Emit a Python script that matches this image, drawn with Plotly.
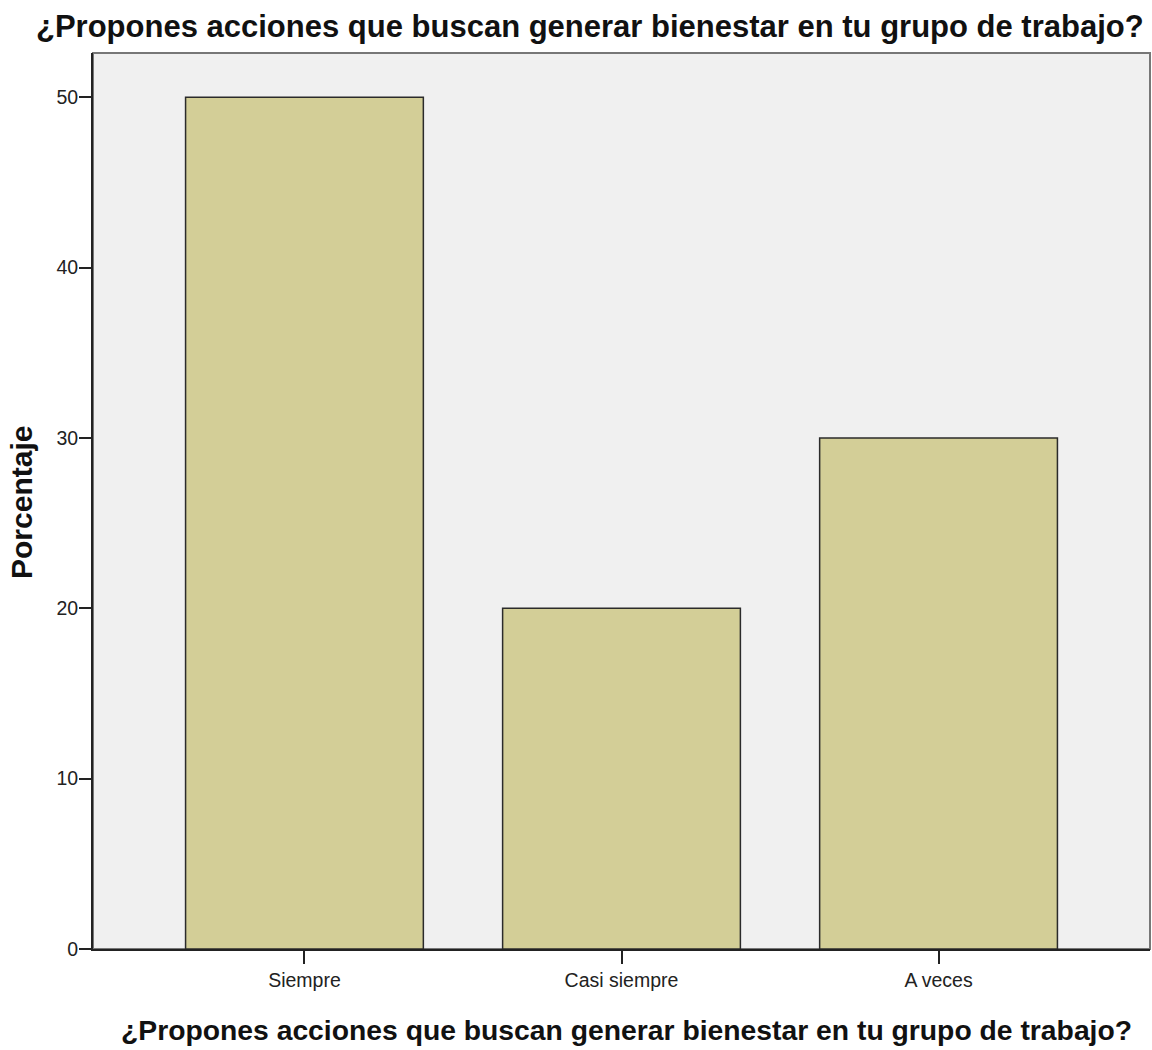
import plotly.graph_objects as go

categories = ["Siempre", "Casi siempre", "A veces"]
percentages = [50, 20, 30]
y_ticks = [0, 10, 20, 30, 40, 50]
title_text = "¿Propones acciones que buscan generar bienestar en tu grupo de trabajo?"
y_title = "Porcentaje"

L, R, T, B = 93, 2, 53, 101
W, H = 1152, 1050
pw, ph = W - L - R, H - T - B

fig = go.Figure()
fig.add_trace(go.Bar(
    x=list(range(len(categories))), y=percentages, width=0.75,
    marker=dict(color="#D3CE97", line=dict(color="#2b2b2b", width=1.5)),
))

fig.update_layout(
    width=W, height=H,
    margin=dict(l=L, r=R, t=T, b=B, autoexpand=False),
    paper_bgcolor="white", plot_bgcolor="#F0F0F0",
    showlegend=False,
    font=dict(family="Liberation Sans, Arial, sans-serif", color="#111"),
    shapes=[dict(type="rect", xref="paper", yref="paper", x0=0, x1=1, y0=0, y1=1,
                 line=dict(color="#777", width=2), layer="below")],
    annotations=[
        dict(text="<b>" + title_text + "</b>", xref="paper", yref="paper",
             x=(590 - L) / pw, y=(H - B - 27) / ph, xanchor="center", yanchor="middle",
             showarrow=False, font=dict(size=31, color="#111")),
        dict(text="<b>" + title_text + "</b>", xref="paper", yref="paper",
             x=(626 - L) / pw, y=(H - B - 1030) / ph, xanchor="center", yanchor="middle",
             showarrow=False, font=dict(size=28.3, color="#111")),
        dict(text="<b>" + y_title + "</b>", xref="paper", yref="paper",
             x=(22 - L) / pw, y=(H - B - 503) / ph, xanchor="center", yanchor="middle",
             textangle=-90, showarrow=False, font=dict(size=30, color="#111")),
    ],
)
fig.update_xaxes(
    range=[-0.667, 2.667], tickmode="array", tickvals=list(range(len(categories))),
    ticktext=categories, ticks="outside", ticklen=13, tickwidth=2, tickcolor="#222",
    showline=True, linecolor="#222", linewidth=2, showgrid=False, zeroline=False,
    tickfont=dict(size=19.5, color="#222"), ticklabelstandoff=0,
)
fig.update_yaxes(
    range=[0, 52.6], tickmode="array", tickvals=y_ticks, ticks="outside", ticklen=12,
    tickwidth=2, tickcolor="#222", showline=True, linecolor="#222", linewidth=2,
    showgrid=False, zeroline=False, tickfont=dict(size=19.5, color="#222"),
    ticklabelstandoff=-3,
)

fig.write_html("out.html", config={"displayModeBar": False},
               post_script="document.body.style.margin='0';document.body.style.overflow='hidden';")
